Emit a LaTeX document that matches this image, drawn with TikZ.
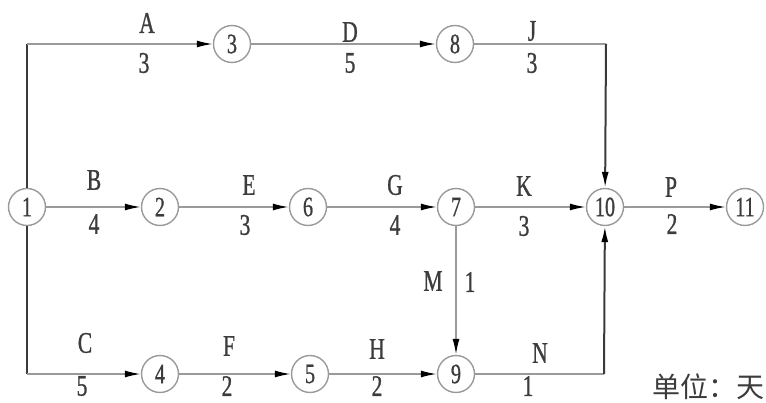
\documentclass[tikz,border=0pt]{standalone}
\usepackage{fontspec}
\setmainfont{Liberation Serif}[FakeStretch=0.72,FakeBold=0.8]
\newfontfamily\cjk{Noto Sans CJK SC}
\usetikzlibrary{arrows.meta}
\definecolor{linegray}{HTML}{9A9A9A}
\definecolor{darkline}{HTML}{3A3A3A}
\definecolor{txtgray}{HTML}{3C3C3C}
\begin{document}
\begin{tikzpicture}[x=1pt,y=-1pt,
  event/.style={circle,draw=linegray,line width=1.4pt,minimum size=37pt,inner sep=0pt,
    text=txtgray,font=\fontsize{28}{30}\selectfont},
  act/.style={draw=linegray,line width=1.6pt,-{Latex[length=16pt,width=7pt,color=black]}},
  dact/.style={draw=darkline,line width=2pt,-{Latex[length=16pt,width=7pt,color=black]}},
  plain/.style={draw=linegray,line width=1.6pt},
  spine/.style={draw=darkline,line width=2.4pt},
  lbl/.style={text=txtgray,font=\fontsize{30}{32}\selectfont,inner sep=0pt}]
\useasboundingbox (0,0) rectangle (766,403);
% events
\node[event] (n1) at (27,207) {1};
\node[event] (n2) at (160,207) {2};
\node[event] (n3) at (232,44) {3};
\node[event] (n4) at (160,374) {4};
\node[event] (n5) at (310,374) {5};
\node[event] (n6) at (308,207) {6};
\node[event] (n7) at (456,207) {7};
\node[event] (n8) at (455,44) {8};
\node[event] (n9) at (456,374) {9};
\node[event] (n10) at (605,207) {10};
\node[event] (n11) at (745,207) {11};
% left spine
\draw[spine] (n1) -- (27,44);
\draw[spine] (n1) -- (27,374);
% activities
\draw[act] (27,44) -- (n3);
\draw[act] (n3) -- (n8);
\draw[plain] (n8) -- (606,44);
\draw[dact] (606,44) -- (n10);
\draw[act] (n1) -- (n2);
\draw[act] (n2) -- (n6);
\draw[act] (n6) -- (n7);
\draw[act] (n7) -- (n10);
\draw[act] (n10) -- (n11);
\draw[act] (n7) -- (n9);
\draw[act] (27,374) -- (n4);
\draw[act] (n4) -- (n5);
\draw[act] (n5) -- (n9);
\draw[plain] (n9) -- (604,374);
\draw[dact] (604,374) -- (n10);
% activity names and durations
\node[lbl] (lA) at (147,23) {A};
\node[lbl] (dA) at (144,63) {3};
\node[lbl] (lD) at (350,32) {D};
\node[lbl] (dD) at (350,63) {5};
\node[lbl] (lJ) at (532,31) {J};
\node[lbl] (dJ) at (532,63) {3};
\node[lbl] (lB) at (94,180) {B};
\node[lbl] (dB) at (94,224) {4};
\node[lbl] (lE) at (249,185) {E};
\node[lbl] (dE) at (245,225) {3};
\node[lbl] (lG) at (395,185) {G};
\node[lbl] (dG) at (395,225) {4};
\node[lbl] (lK) at (524,186) {K};
\node[lbl] (dK) at (524,226) {3};
\node[lbl] (lP) at (671,187) {P};
\node[lbl] (dP) at (672,224) {2};
\node[lbl] (lM) at (433,281) {M};
\node[lbl] (dM) at (470,282) {1};
\node[lbl] (lC) at (85,343) {C};
\node[lbl] (dC) at (82,386) {5};
\node[lbl] (lF) at (229,346) {F};
\node[lbl] (dF) at (227,386) {2};
\node[lbl] (lH) at (377,349) {H};
\node[lbl] (dH) at (377,386) {2};
\node[lbl] (lN) at (540,353) {N};
\node[lbl] (dN) at (528,386) {1};
\node[text=txtgray,font=\cjk\fontsize{28}{30}\selectfont,inner sep=0pt,anchor=west] (unit) at (652,387) {单位：天};
\end{tikzpicture}
\end{document}
